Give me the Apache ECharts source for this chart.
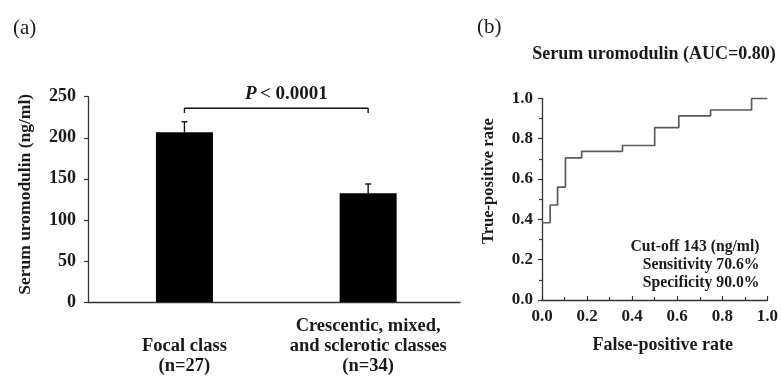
<!DOCTYPE html>
<html>
<head>
<meta charset="utf-8">
<script src="https://cdn.jsdelivr.net/npm/echarts@6/dist/echarts.min.js"></script>
<style>html,body{margin:0;padding:0;background:#fff}#c{width:781px;height:379px}</style>
</head>
<body>
<div id="c"></div>
<script>
// Panel (a) data
var groupNames = ['Focal class\n(n=27)', 'Crescentic, mixed,\nand sclerotic classes\n(n=34)'];
var groupMeans = [206.6, 132.4];
var groupErrTop = [219.5, 143.7];
var barTicks = [0, 50, 100, 150, 200, 250];
var pValueText = 'P < 0.0001';
var bracketTop = 235.9;
var bracketFoot = 230.2;

// Panel (b) data (ROC step vertices)
var rocFpr = [0, 0.036, 0.069, 0.104, 0.176, 0.357, 0.5, 0.607, 0.748, 0.93, 1.0];
var rocTpr = [0.383, 0.471, 0.56, 0.705, 0.737, 0.766, 0.855, 0.913, 0.942, 1.0, 1.0];
var rocTitle = 'Serum uromodulin (AUC=0.80)';
var rocNotes = ['Cut-off 143 (ng/ml)', 'Sensitivity 70.6%', 'Specificity 90.0%'];

var F = '"Liberation Serif", "Times New Roman", serif';
var TXT = '#1a1a1a';
var AX = '#333';

var chart = echarts.init(document.getElementById('c'), null, {renderer: 'canvas'});

var barData = groupMeans.map(function (v, i) { return [i, v]; });
var errData = groupMeans.map(function (v, i) { return [i, v, groupErrTop[i]]; });
var bracketData = [[0, bracketFoot], [0, bracketTop], [1, bracketTop], [1, bracketFoot]];
var rocData = rocFpr.map(function (x, i) { return [x, rocTpr[i]]; });

var option = {
  animation: false,
  backgroundColor: '#fff',
  title: [
    {text: '(a)', left: 8, top: 13, textStyle: {fontFamily: F, fontSize: 21, fontWeight: 'normal', color: TXT}},
    {text: '(b)', left: 472, top: 12, textStyle: {fontFamily: F, fontSize: 21, fontWeight: 'normal', color: TXT}},
    {text: rocTitle, left: 649, textAlign: 'center', top: 40, textStyle: {fontFamily: F, fontSize: 18, fontWeight: 'bold', color: TXT}}
  ],
  grid: [
    {left: 88, top: 96.7, width: 372, height: 205.3, containLabel: false},
    {left: 542, top: 98.3, width: 228, height: 201.7, containLabel: false}
  ],
  xAxis: [
    {
      gridIndex: 0, type: 'value', min: -0.525, max: 1.5,
      splitLine: {show: false},
      axisLine: {show: true, onZero: false, lineStyle: {color: AX, width: 1.3}},
      axisTick: {show: false},
      axisLabel: {
        show: true, customValues: [0, 1], margin: 14,
        formatter: function (v) {
          var i = Math.round(v);
          var s = groupNames[i] || '';
          return i === 0 ? '\n' + s : s;
        },
        fontFamily: F, fontSize: 18.5, fontWeight: 'bold', color: TXT, lineHeight: 20
      }
    },
    {
      gridIndex: 1, type: 'value', min: 0, max: 1, interval: 0.2,
      splitLine: {show: false},
      axisLine: {show: true, onZero: false, lineStyle: {color: AX, width: 1.3}},
      axisTick: {show: true, inside: true, length: 4, lineStyle: {color: AX, width: 1.2}},
      minorTick: {show: true, splitNumber: 2, length: 3, lineStyle: {color: AX, width: 1.2}},
      axisLabel: {formatter: function (v) { return v.toFixed(1); }, margin: 8, fontFamily: F, fontSize: 17, fontWeight: 'bold', color: TXT},
      name: 'False-positive rate', nameLocation: 'middle', nameGap: 36,
      nameTextStyle: {fontFamily: F, fontSize: 18, fontWeight: 'bold', color: TXT, padding: [0, 0, 0, 16]}
    }
  ],
  yAxis: [
    {
      gridIndex: 0, type: 'value', min: 0, max: 250, interval: 50,
      splitLine: {show: false},
      axisLine: {show: true, onZero: false, lineStyle: {color: AX, width: 1.3}},
      axisTick: {show: true, length: 4, lineStyle: {color: AX, width: 1.2}},
      axisLabel: {margin: 12, fontFamily: F, fontSize: 18, fontWeight: 'bold', color: TXT},
      name: 'Serum uromodulin (ng/ml)', nameLocation: 'middle', nameGap: 54, nameRotate: 90,
      nameTextStyle: {fontFamily: F, fontSize: 17.5, fontWeight: 'bold', color: TXT, padding: [0, 0, 0, 10]}
    },
    {
      gridIndex: 1, type: 'value', min: 0, max: 1, interval: 0.2,
      splitLine: {show: false},
      axisLine: {show: true, onZero: false, lineStyle: {color: AX, width: 1.3}},
      axisTick: {show: true, length: 4, lineStyle: {color: AX, width: 1.2}},
      minorTick: {show: true, splitNumber: 2, length: 3, lineStyle: {color: AX, width: 1.2}},
      axisLabel: {formatter: function (v) { return v.toFixed(1); }, margin: 9, fontFamily: F, fontSize: 17, fontWeight: 'bold', color: TXT},
      name: 'True-positive rate', nameLocation: 'middle', nameGap: 45, nameRotate: 90,
      nameTextStyle: {fontFamily: F, fontSize: 16.5, fontWeight: 'bold', color: TXT, padding: [0, 0, 0, 36]}
    }
  ],
  series: [
    {
      type: 'bar', xAxisIndex: 0, yAxisIndex: 0, data: barData, barWidth: 57,
      itemStyle: {color: '#000'}, silent: true
    },
    {
      type: 'custom', xAxisIndex: 0, yAxisIndex: 0, data: errData, silent: true,
      encode: {x: 0, y: 2},
      renderItem: function (params, api) {
        var x = api.value(0);
        var lo = api.coord([x, api.value(1)]);
        var hi = api.coord([x, api.value(2)]);
        return {
          type: 'group',
          children: [
            {type: 'line', shape: {x1: lo[0], y1: lo[1], x2: hi[0], y2: hi[1]}, style: {stroke: '#111', lineWidth: 1.4}},
            {type: 'line', shape: {x1: hi[0] - 3, y1: hi[1], x2: hi[0] + 3, y2: hi[1]}, style: {stroke: '#111', lineWidth: 1.4}}
          ]
        };
      }
    },
    {
      type: 'line', xAxisIndex: 0, yAxisIndex: 0, data: bracketData, silent: true,
      showSymbol: false, symbol: 'none',
      lineStyle: {color: '#111', width: 1.4},
      markPoint: {
        symbol: 'rect', symbolSize: 1, itemStyle: {color: 'rgba(0,0,0,0)'},
        data: [{coord: [0.555, bracketTop],
          label: {show: true, position: 'top', distance: 4,
            formatter: '{i|P} {n|< 0.0001}',
            rich: {
              i: {fontFamily: F, fontSize: 19, fontWeight: 'bold', fontStyle: 'italic', color: TXT},
              n: {fontFamily: F, fontSize: 19, fontWeight: 'bold', color: TXT}
            }}}]
      }
    },
    {
      type: 'line', xAxisIndex: 1, yAxisIndex: 1, data: rocData, step: 'end',
      showSymbol: false, symbol: 'none', silent: true,
      lineStyle: {color: '#5a5a5a', width: 1.7}
    }
  ],
  graphic: rocNotes.map(function (t, i) {
    return {
      type: 'text', x: 759.5, y: 246.7 + i * 18.3, silent: true,
      style: {text: t, align: 'right', verticalAlign: 'middle', fontFamily: F, fontSize: 15.7, fontWeight: 'bold', fill: TXT}
    };
  })
};
chart.setOption(option);
</script>
</body>
</html>
